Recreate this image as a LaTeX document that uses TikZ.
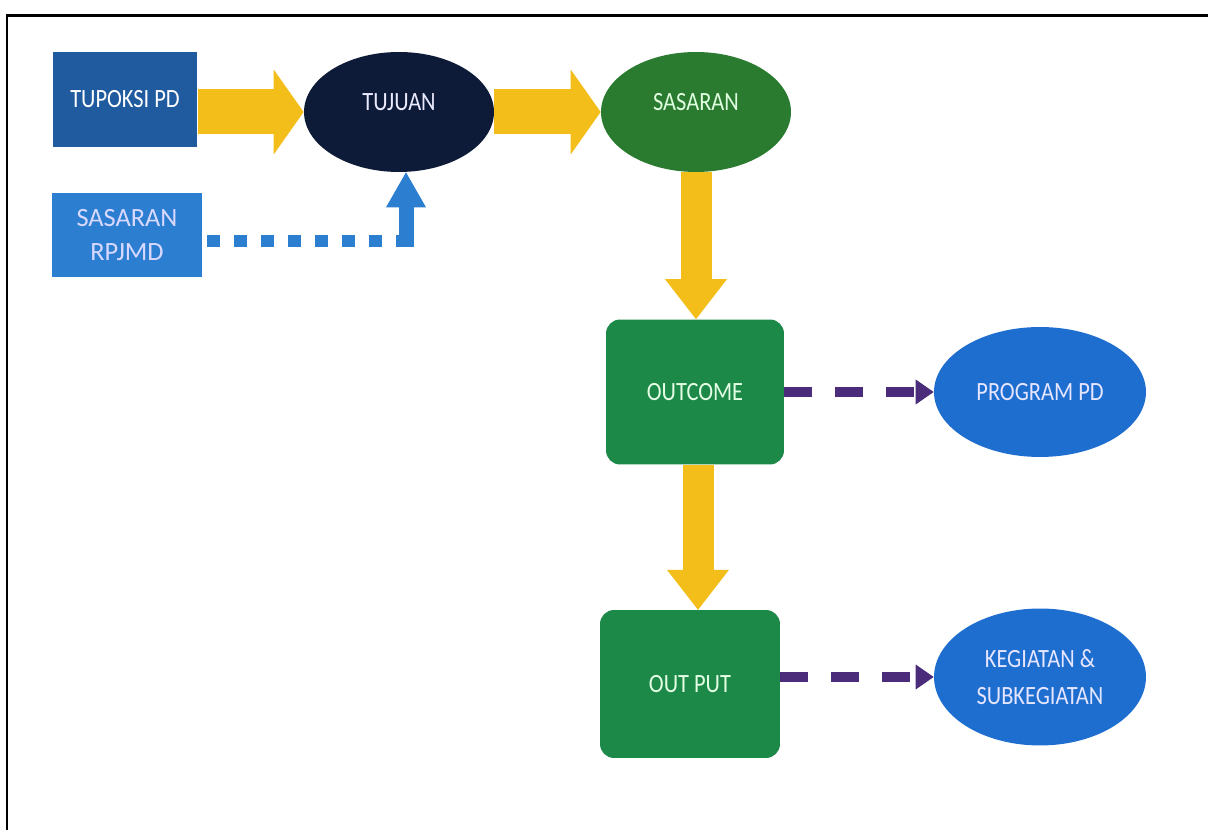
\documentclass[tikz,border=0pt]{standalone}
\usepackage{fontspec}
\setmainfont{Carlito}[FakeStretch=0.85]
\newfontfamily\rpjmdfont{Carlito}
\usetikzlibrary{arrows.meta,shapes.geometric}

\definecolor{fatyellow}{RGB}{243,190,26}
\definecolor{tupoksiblue}{RGB}{31,91,158}
\definecolor{tujuannavy}{RGB}{14,27,56}
\definecolor{sasarangreen}{RGB}{42,122,48}
\definecolor{rpjmdblue}{RGB}{44,126,208}
\definecolor{outgreen}{RGB}{28,137,72}
\definecolor{progblue}{RGB}{30,110,208}
\definecolor{dashpurple}{RGB}{74,44,122}

\tikzset{
	fatarrow/.style={draw=fatyellow, line width=0.9cm, -{Triangle[width=1.7cm, length=0.6cm, line width=0pt]}},
	downarrow/.style={draw=fatyellow, line width=0.62cm, -{Triangle[width=1.24cm, length=0.8cm, line width=0pt]}},
	dotline/.style={draw=rpjmdblue, line width=0.24cm, dash pattern=on 0.26cm off 0.28cm},
	uparrow/.style={draw=rpjmdblue, line width=0.3cm, -{Triangle[width=0.8cm, length=0.7cm, line width=0pt]}},
	purpledash/.style={draw=dashpurple, line width=0.2cm, dash pattern=on 0.56cm off 0.46cm, -{Triangle[width=0.5cm, length=0.36cm, line width=0pt]}},
	boxtext/.style={font=\fontsize{15}{21}\selectfont, align=center},
	roundbox/.style={boxtext, fill=outgreen, text=green!10!white, rounded corners=0.28cm},
	blueoval/.style={boxtext, ellipse, fill=progblue, text=blue!10!white, inner sep=0pt}
}

\begin{document}
\begin{tikzpicture}[x=0.02cm, y=-0.02cm]
			%%%%% START %%%%%
			
			\useasboundingbox (0, 0) rectangle (1208, 830);
			\draw[line width=0.06cm] (7, 830) -- (7, 16) -- (1208, 16);
			
			\node[boxtext, fill=tupoksiblue, text=white, minimum width=2.9cm, minimum height=1.9cm] (tupoksi) at (125, 99.5) {TUPOKSI PD};
			\node[boxtext, ellipse, fill=tujuannavy, text=white!92!blue, minimum width=3.8cm, minimum height=2.4cm, text depth=0.4cm] (tujuan) at (399, 112) {TUJUAN};
			\node[boxtext, ellipse, fill=sasarangreen, text=green!12!white, minimum width=3.8cm, minimum height=2.4cm, text depth=0.4cm] (sasaran) at (696, 112) {SASARAN};
			\node[font=\rpjmdfont\fontsize{15}{19}\selectfont, align=center, fill=rpjmdblue, text=blue!15!white, minimum width=3.0cm, minimum height=1.68cm] (rpjmd) at (127, 235) {SASARAN\\RPJMD};
			
			\draw[fatarrow] (tupoksi.east |- tujuan.west) -- (tujuan.west);
			\draw[fatarrow] (tujuan.east) -- (sasaran.west);
			
			\coordinate (bend) at (406, 241);
			\draw[dotline] (rpjmd.east |- bend) ++(5, 0) -- (bend);
			\draw[uparrow] (bend) ++(0, 6) -- (bend |- tujuan.south);
			
			\node[roundbox, minimum width=3.56cm, minimum height=2.9cm] (outcome) at (695, 392) {OUTCOME};
			\node[roundbox, minimum width=3.6cm, minimum height=2.96cm] (output) at (690, 684) {OUT PUT};
			\node[blueoval, minimum width=4.24cm, minimum height=2.6cm] (program) at (1040, 392) {PROGRAM PD};
			\node[blueoval, minimum width=4.24cm, minimum height=2.74cm] (kegiatan) at (1040, 677) {KEGIATAN \&\\SUBKEGIATAN};
			
			\draw[downarrow] (sasaran.south) -- (sasaran.south |- outcome.north);
			\draw[downarrow] (outcome.south) ++(3, 0) -- ++(0, 145);
			
			\draw[purpledash] (outcome.east) -- (program.west);
			\draw[purpledash] (output.east |- kegiatan.west) -- (kegiatan.west);
			
			%%%%% END %%%%%
		\end{tikzpicture}
\end{document}
